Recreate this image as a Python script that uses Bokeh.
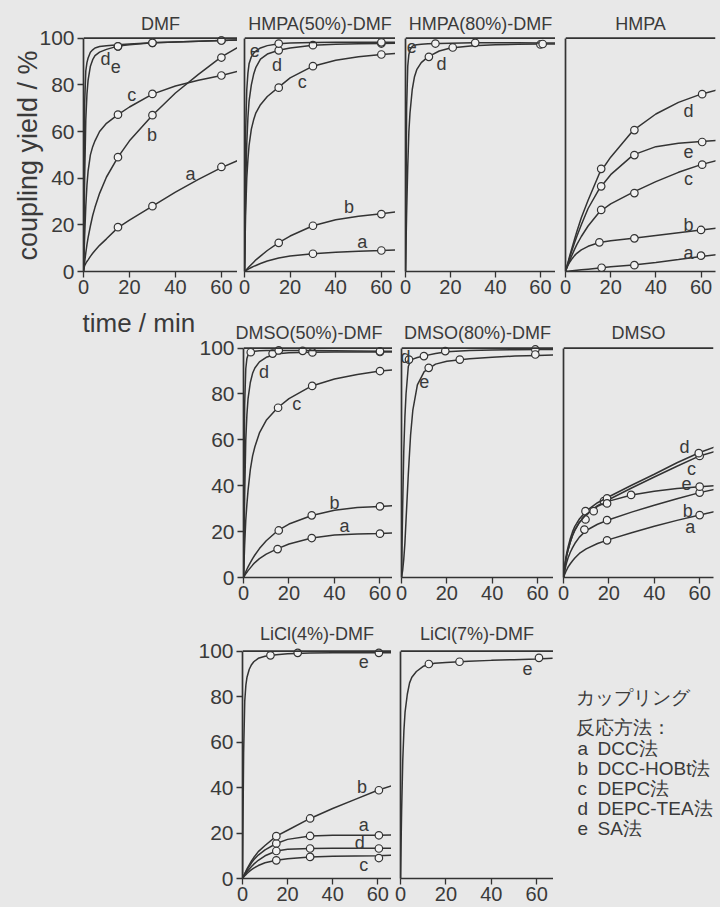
from bokeh.plotting import figure
from bokeh.layouts import column, row
from bokeh.models import Range1d, Span, FixedTicker, Spacer, Title
from bokeh.embed import file_html
from bokeh.resources import INLINE
from bokeh.core.properties import value

# ---------------------------------------------------------------- data
# time grid (min) on which every fitted curve is sampled
CURVE_T = [0, 0.5, 1, 1.5, 2, 3, 4, 5, 7, 10, 15, 20, 30, 40, 50, 60, 67]
X_TICKS = [0, 20, 40, 60]
Y_TICKS = [0, 20, 40, 60, 80, 100]

METHOD_KEYS = ["a", "b", "c", "d", "e"]
METHOD_NAMES = ["DCC法", "DCC-HOBt法", "DEPC法", "DEPC-TEA法", "SA法"]
LEGEND_HEAD = ["カップリング", "反応方法："]

# DMF
DMF_A = [1, 2.5, 3.5, 4.3, 5, 6.5, 7.8, 9, 11.2, 14, 18.8, 22, 28, 34, 39.5, 44.5, 47.5]
DMF_B = [0, 4, 8, 11.5, 14.5, 19.5, 24, 27.5, 33.5, 40.5, 49, 56, 67, 76.5, 84.5, 92, 96]
DMF_C = [0, 15, 28, 37, 43, 50, 53.5, 56, 60, 63.5, 67.2, 70.5, 76, 79.5, 82, 84, 85.8]
DMF_D = [0, 72, 86, 89.5, 91.5, 94, 95, 95.8, 96.4, 96.8, 97.2, 97.5, 98, 98.4, 98.7, 99, 99.2]
DMF_E = [0, 40, 65, 76, 82, 88, 90.8, 92.5, 94, 95.2, 96.6, 97.2, 98, 98.4, 98.7, 99, 99.2]
DMF_PT_T = [15, 30, 60]
DMF_PT_A = [19, 28, 44.8]
DMF_PT_B = [49, 67, 91.7]
DMF_PT_C = [67.2, 76.1, 84]
DMF_PT_DE = [96.5, 98, 99]

# HMPA(50%)-DMF
H50_A = [0, 0.3, 0.6, 0.9, 1.2, 1.7, 2.2, 2.6, 3.4, 4.5, 5.8, 6.6, 7.6, 8.2, 8.7, 9, 9.3]
H50_B = [0, 0.5, 1, 1.5, 2, 3, 4, 5, 6.6, 9, 12.4, 15.2, 19.6, 22.2, 23.7, 24.7, 25.6]
H50_C = [0, 25, 40, 48, 54, 61, 65, 68, 71.5, 75, 79, 83, 88, 90.5, 92, 93, 93.5]
H50_D = [0, 35, 55, 66, 73, 80, 84.5, 87.5, 91, 93.2, 94.8, 95.8, 97, 97.4, 97.6, 97.7, 97.8]
H50_E = [0, 60, 78, 85, 89, 92, 93.5, 94.5, 95.8, 96.8, 97.6, 97.9, 98.1, 98.2, 98.3, 98.3, 98.3]
H50_PT_T = [15, 30, 60]
H50_PT_A_T = [30, 60]
H50_PT_A = [7.6, 9]
H50_PT_B = [12.3, 19.6, 24.6]
H50_PT_C = [78.8, 88, 93]
H50_PT_D = [94.8, 97, 97.7]
H50_PT_E_T = [15, 60]
H50_PT_E = [97.7, 98.2]

# HMPA(80%)-DMF
H80_D = [0, 25, 45, 60, 68, 78, 83.5, 86.5, 89.5, 92, 94.5, 95.8, 96.8, 97.2, 97.4, 97.5, 97.5]
H80_E = [0, 70, 88, 93, 95, 96.5, 97, 97.2, 97.4, 97.6, 97.7, 97.8, 98, 98, 98, 97.9, 97.9]
H80_PT_D_T = [10.4, 21, 60]
H80_PT_D = [92, 96, 97.3]
H80_PT_E_T = [13.3, 31, 61]
H80_PT_E = [97.7, 98, 97.5]

# HMPA
HM_A = [0, 0, 0.1, 0.1, 0.2, 0.3, 0.4, 0.5, 0.7, 1, 1.5, 2, 2.8, 3.9, 5.1, 6.4, 7.2]
HM_B = [0.5, 1.5, 2.5, 3.4, 4.2, 5.6, 6.8, 7.8, 9.3, 10.8, 12.4, 13.2, 14.2, 15.4, 16.6, 17.8, 18.6]
HM_C = [0, 1.3, 2.6, 3.9, 5, 7.3, 9.5, 11.5, 15, 19.5, 25.5, 29, 34, 38.5, 42.5, 45.8, 47.6]
HM_D = [0, 1.8, 3.6, 5.4, 7.2, 10.5, 13.8, 17, 23, 30.5, 42, 49, 60.5, 67.5, 72.5, 76, 77.8]
HM_E = [0, 1.6, 3.2, 4.8, 6.4, 9.4, 12.3, 15, 20, 27, 35.5, 41.5, 50, 53.5, 55, 55.7, 56.2]
HM_PT_T = [15.8, 30.5, 60.5]
HM_PT_A_T = [16, 30.5, 60]
HM_PT_A = [1.6, 2.7, 6.8]
HM_PT_B_T = [15, 30.5, 60]
HM_PT_B = [12.5, 14.2, 17.8]
HM_PT_C = [26.4, 33.6, 45.8]
HM_PT_D = [44, 60.6, 76]
HM_PT_E = [36.5, 49.9, 55.5]

# DMSO(50%)-DMF
D50_A = [0, 0.8, 1.6, 2.3, 3, 4.2, 5.4, 6.5, 8.2, 10.2, 12.6, 14.6, 17.2, 18.5, 19, 19.2, 19.4]
D50_B = [0, 1.3, 2.5, 3.6, 4.6, 6.5, 8.2, 9.8, 12.6, 16, 20.4, 23.3, 27, 29.3, 30.5, 31, 31.3]
D50_C = [0, 14, 25, 32, 38, 47, 53, 57, 63, 68.5, 74, 78, 83.5, 86.5, 88.5, 90, 90.6]
D50_D = [0, 35, 60, 71, 78, 85, 89, 91.3, 94, 96, 97.5, 98, 98.2, 98.3, 98.3, 98.3, 98.3]
D50_E = [0, 75, 91, 95.5, 97, 98, 98.4, 98.6, 98.8, 98.9, 99, 99, 98.9, 98.8, 98.7, 98.6, 98.6]
D50_PT_A_T = [15, 30, 60]
D50_PT_A = [12.4, 17.2, 19.1]
D50_PT_B_T = [15.5, 30, 60]
D50_PT_B = [20.5, 27.1, 31]
D50_PT_C_T = [15.2, 30.2, 60]
D50_PT_C = [74, 83.5, 90]
D50_PT_D_T = [12.8, 30.3, 60]
D50_PT_D = [97.6, 98.1, 98.3]
D50_PT_E_T = [3.2, 15.5, 26, 60]
D50_PT_E = [98.2, 99, 98.8, 98.6]

# DMSO(80%)-DMF
D80_D = [0, 30, 55, 70, 80, 92, 94.5, 95.2, 95.9, 96.6, 97.6, 98.4, 98.9, 99.2, 99.3, 99.4, 99.4]
D80_E = [0, 3, 8, 15, 25, 45, 62, 73, 84, 89.7, 93, 94.3, 95.3, 96, 96.5, 96.8, 97]
D80_PT_D_T = [3.3, 9.9, 19.3, 59]
D80_PT_D = [95, 96.5, 98.7, 99.4]
D80_PT_E_T = [12, 25.7, 59]
D80_PT_E = [91.4, 95, 97.2]

# DMSO
DS_A = [0, 1.3, 2.5, 3.5, 4.5, 6, 7.3, 8.5, 10.5, 12.5, 14.8, 16.5, 19.5, 22.3, 24.9, 27.2, 28.8]
DS_B = [0, 2.5, 5, 6.9, 8.5, 11, 13, 14.8, 17.6, 20.5, 23.2, 25.2, 28.5, 31.5, 34.3, 37, 38.5]
DS_C = [0, 4, 7.5, 10, 12, 15.5, 18.5, 20.8, 24, 27.5, 31.3, 34, 39, 43.8, 48.5, 53, 55]
DS_D = [0, 4.5, 8.5, 11, 13.2, 17, 20, 22.3, 25.5, 29, 32.6, 35.2, 40.2, 45, 50, 54.5, 57]
DS_E = [0, 4, 7.5, 10, 12, 15.5, 18.3, 20.5, 24, 27.5, 31, 33.3, 36, 37.6, 38.8, 39.6, 40]
DS_PT_A_T = [19.2, 60]
DS_PT_A = [16.2, 27.2]
DS_PT_B_T = [9.2, 19.2, 60]
DS_PT_B = [20.9, 25, 37]
DS_PT_C_T = [9.7, 17.8, 60]
DS_PT_C = [25.3, 33.3, 53]
DS_PT_D_T = [9.7, 19.2, 59.6]
DS_PT_D = [28.9, 34.5, 54.2]
DS_PT_E_T = [13.3, 19.2, 29.8, 60]
DS_PT_E = [28.9, 32.3, 36, 39.6]

# LiCl(4%)-DMF
L4_A = [0, 1, 2, 2.9, 3.8, 5.4, 6.9, 8.2, 10.3, 12.6, 15.4, 17.2, 18.7, 19, 19, 19, 19.1]
L4_B = [0, 1.1, 2.2, 3.2, 4.2, 6, 7.7, 9.2, 11.8, 14.5, 18.6, 21.2, 26.4, 30.8, 34.8, 38.8, 41]
L4_C = [0, 0.6, 1.2, 1.7, 2.2, 3.1, 3.9, 4.6, 5.7, 6.9, 8, 8.7, 9.5, 9.8, 9.9, 10, 10.3]
L4_D = [0, 0.8, 1.6, 2.3, 3, 4.2, 5.3, 6.3, 8, 10, 12.1, 12.9, 13.2, 13.3, 13.3, 13.3, 13.3]
L4_E = [0, 55, 78, 85, 88.5, 92, 94, 95.3, 96.8, 97.7, 98.4, 98.8, 99.1, 99.2, 99.3, 99.3, 99.3]
L4_PT_T = [15, 30, 60.5]
L4_PT_A = [15.4, 18.7, 19]
L4_PT_B = [18.6, 26.4, 38.8]
L4_PT_C = [8, 9.5, 9]
L4_PT_D = [12.1, 13.2, 13.2]
L4_PT_E_T = [12.4, 24.5, 60.5]
L4_PT_E = [98.1, 99.2, 99.2]

# LiCl(7%)-DMF
L7_E = [0, 30, 52, 65, 73, 81, 86, 88.5, 91, 93.3, 94.6, 95, 95.5, 95.9, 96.2, 96.5, 96.8]
L7_PT_E_T = [12.5, 26, 61]
L7_PT_E = [94.3, 95.3, 97]

# ---------------------------------------------------------------- panels
PANELS = {
    "DMF": [("a", DMF_A, DMF_PT_T, DMF_PT_A), ("b", DMF_B, DMF_PT_T, DMF_PT_B),
            ("c", DMF_C, DMF_PT_T, DMF_PT_C), ("d", DMF_D, DMF_PT_T, DMF_PT_DE),
            ("e", DMF_E, DMF_PT_T, DMF_PT_DE)],
    "HMPA(50%)-DMF": [("a", H50_A, H50_PT_A_T, H50_PT_A), ("b", H50_B, H50_PT_T, H50_PT_B),
                      ("c", H50_C, H50_PT_T, H50_PT_C), ("d", H50_D, H50_PT_T, H50_PT_D),
                      ("e", H50_E, H50_PT_E_T, H50_PT_E)],
    "HMPA(80%)-DMF": [("d", H80_D, H80_PT_D_T, H80_PT_D), ("e", H80_E, H80_PT_E_T, H80_PT_E)],
    "HMPA": [("a", HM_A, HM_PT_A_T, HM_PT_A), ("b", HM_B, HM_PT_B_T, HM_PT_B),
             ("c", HM_C, HM_PT_T, HM_PT_C), ("d", HM_D, HM_PT_T, HM_PT_D),
             ("e", HM_E, HM_PT_T, HM_PT_E)],
    "DMSO(50%)-DMF": [("a", D50_A, D50_PT_A_T, D50_PT_A), ("b", D50_B, D50_PT_B_T, D50_PT_B),
                      ("c", D50_C, D50_PT_C_T, D50_PT_C), ("d", D50_D, D50_PT_D_T, D50_PT_D),
                      ("e", D50_E, D50_PT_E_T, D50_PT_E)],
    "DMSO(80%)-DMF": [("d", D80_D, D80_PT_D_T, D80_PT_D), ("e", D80_E, D80_PT_E_T, D80_PT_E)],
    "DMSO": [("a", DS_A, DS_PT_A_T, DS_PT_A), ("b", DS_B, DS_PT_B_T, DS_PT_B),
             ("c", DS_C, DS_PT_C_T, DS_PT_C), ("d", DS_D, DS_PT_D_T, DS_PT_D),
             ("e", DS_E, DS_PT_E_T, DS_PT_E)],
    "LiCl(4%)-DMF": [("a", L4_A, L4_PT_T, L4_PT_A), ("b", L4_B, L4_PT_T, L4_PT_B),
                     ("c", L4_C, L4_PT_T, L4_PT_C), ("d", L4_D, L4_PT_T, L4_PT_D),
                     ("e", L4_E, L4_PT_E_T, L4_PT_E)],
    "LiCl(7%)-DMF": [("e", L7_E, L7_PT_E_T, L7_PT_E)],
}

# where each curve's letter sits (time, yield)
LETTER_AT = {
    "DMF": {"a": (46.5, 42), "b": (29.8, 58.4), "c": (21, 75.5), "d": (9.6, 91), "e": (14, 87.7)},
    "HMPA(50%)-DMF": {"a": (51.6, 12.6), "b": (45.8, 27.6), "c": (25.3, 81.2), "d": (14.3, 88.4), "e": (4.5, 94.8)},
    "HMPA(80%)-DMF": {"d": (16, 89), "e": (2.8, 96.5)},
    "HMPA": {"a": (54.5, 7.8), "b": (54.5, 20), "c": (54.5, 39.7), "d": (54.5, 68.8), "e": (54.5, 51.6)},
    "DMSO(50%)-DMF": {"a": (44.4, 22.3), "b": (40, 32.5), "c": (23.4, 75.5), "d": (9, 89.5)},
    "DMSO(80%)-DMF": {"d": (1.8, 95.9), "e": (10, 85.6)},
    "DMSO": {"a": (55.9, 22), "b": (54.8, 29), "c": (56.4, 47.2), "d": (53.3, 57), "e": (54.2, 41)},
    "LiCl(4%)-DMF": {"a": (53.8, 23.5), "b": (53, 40.3), "c": (53.8, 5.9), "d": (52, 15.4), "e": (53.8, 95.3)},
    "LiCl(7%)-DMF": {"e": (56, 92.5)},
}

# ---------------------------------------------------------------- style
BG = "#e8e8e8"
INK = "#333333"
TEXT = "#3a3a3a"
DOT_FILL = "#f1f1f1"
FONT = "Liberation Sans"
FILL_STYLE = {"background-color": BG}


def panel(name, width, height, left, right, top, bottom, x_end, y_labels, title_standoff):
    p = figure(width=width, height=height,
               x_range=Range1d(0, x_end), y_range=Range1d(0, 102),
               output_backend="svg", toolbar_location=None,
               min_border_left=left, min_border_right=right,
               min_border_top=top, min_border_bottom=bottom,
               background_fill_color=BG, border_fill_color=BG,
               outline_line_color=None, title=name, styles=FILL_STYLE)
    p.grid.visible = False
    p.title.align = "center"
    p.title.text_font = FONT
    p.title.text_font_size = "18px"
    p.title.text_font_style = "normal"
    p.title.text_color = TEXT
    p.title.standoff = title_standoff

    xa = p.xaxis[0]
    xa.ticker = FixedTicker(ticks=X_TICKS)
    xa.bounds = (0, x_end)
    xa.major_tick_out = 6
    xa.major_tick_in = 0
    xa.minor_tick_line_color = None
    xa.major_label_standoff = 2
    xa.major_label_text_font = FONT
    xa.major_label_text_font_size = "20px"
    xa.major_label_text_color = TEXT
    xa.axis_line_color = INK
    xa.axis_line_width = 1.7
    xa.major_tick_line_color = INK
    xa.major_tick_line_width = 1.3

    ya = p.yaxis[0]
    ya.bounds = (0, 100)
    ya.axis_line_color = INK
    ya.axis_line_width = 1.7
    ya.minor_tick_line_color = None
    ya.major_tick_in = 0
    if y_labels:
        ya.ticker = FixedTicker(ticks=Y_TICKS)
        ya.major_tick_out = 6
        ya.major_label_standoff = 3
        ya.major_label_text_font = FONT
        ya.major_label_text_font_size = "21px"
        ya.major_label_text_color = TEXT
        ya.major_tick_line_color = INK
        ya.major_tick_line_width = 1.3
    else:
        ya.ticker = FixedTicker(ticks=[])
        ya.major_tick_out = 0
        ya.major_label_standoff = 0
        ya.major_tick_line_color = None

    p.add_layout(Span(location=100, dimension="width", line_color=INK, line_width=1.7))

    for key, curve, pt_t, pt_y in PANELS[name]:
        p.line(CURVE_T, curve, line_color=INK, line_width=1.5)
        p.scatter(pt_t, pt_y, marker="circle", size=7.5, fill_color=DOT_FILL,
                  line_color=INK, line_width=1.2)

    spots = LETTER_AT[name]
    keys = list(spots)
    p.text(x=[spots[k][0] for k in keys], y=[spots[k][1] for k in keys], text=keys,
           text_font=value(FONT), text_font_size="18px", text_color=TEXT,
           text_align="center", text_baseline="middle")
    return p


def blank(width, height, top=0, bottom=0):
    """Axis-less canvas whose data units are pixels measured from its top-left."""
    b = figure(width=width, height=height, x_range=Range1d(0, width),
               y_range=Range1d(height - bottom, top),
               output_backend="svg", toolbar_location=None,
               x_axis_location=None, y_axis_location=None,
               min_border_left=0, min_border_right=0,
               min_border_top=top, min_border_bottom=bottom,
               background_fill_color=BG, border_fill_color=BG, outline_line_color=None,
               styles=FILL_STYLE)
    b.grid.visible = False
    return b


# row heights: 303 + 306 + 298 = 907
R1, R2, R3 = 303, 306, 298

dmf = panel("DMF", 237, R1, 83, 0, 33, 32, 67, True, 0)
# shared y-axis title, started a little above the x axis
dmf.add_layout(Title(text="coupling yield / %", align="left", offset=11, standoff=-12,
                     text_font=FONT, text_font_size="27px", text_font_style="normal",
                     text_color=TEXT), "left")

h50 = panel("HMPA(50%)-DMF", 158, R1, 7, 0, 33, 32, 66.2, False, 0)
h80 = panel("HMPA(80%)-DMF", 160, R1, 10, 0, 33, 32, 66.7, False, 0)
hm = panel("HMPA", 165, R1, 10, 5, 33, 32, 66.4, False, 0)

# x-axis title belonging to the DMF panel, in the free corner under it
TM_W, TM_H = 196, 40
tmin = blank(TM_W, TM_H)
tmin.text(x=[82], y=[19], text=["time / min"], text_font=value(FONT),
          text_font_size="26px", text_color=TEXT, text_align="left",
          text_baseline="alphabetic")
corner = column(tmin, Spacer(width=TM_W, height=R2 - TM_H, styles=FILL_STYLE),
                styles=FILL_STYLE)

d50 = panel("DMSO(50%)-DMF", 196, R2, 45, 0, 40, 32, 65.5, True, 2)
d50.title.align = "left"
d50.title.offset = -8
d80 = panel("DMSO(80%)-DMF", 161, R2, 9, 0, 40, 32, 67, False, 2)
dms = panel("DMSO", 167, R2, 10, 7, 40, 32, 66.1, False, 2)

l4 = panel("LiCl(4%)-DMF", 391, R3, 242, 0, 37, 29, 66.1, True, 5)
l7 = panel("LiCl(7%)-DMF", 162, R3, 9, 0, 37, 29, 67.4, False, 5)

# method key; y values are pixels from the top of the row
leg = blank(167, R3, top=37, bottom=29)
head_y = [88 + 30 * i for i in range(len(LEGEND_HEAD))]
leg.text(x=[22] * len(LEGEND_HEAD), y=head_y, text=LEGEND_HEAD,
         text_font=value(FONT), text_font_size="19px", text_color=TEXT,
         text_align="left", text_baseline="middle")
item_y = [138.5 + 20 * i for i in range(len(METHOD_KEYS))]
leg.text(x=[24] * len(METHOD_KEYS), y=item_y, text=METHOD_KEYS,
         text_font=value(FONT), text_font_size="19px", text_color=TEXT,
         text_align="left", text_baseline="middle")
leg.text(x=[44] * len(METHOD_NAMES), y=item_y, text=METHOD_NAMES,
         text_font=value(FONT), text_font_size="19px", text_color=TEXT,
         text_align="left", text_baseline="middle")

layout = column(row(dmf, h50, h80, hm, styles=FILL_STYLE),
                row(corner, d50, d80, dms, styles=FILL_STYLE),
                row(l4, l7, leg, styles=FILL_STYLE),
                styles=FILL_STYLE)

with open("out.html", "w") as f:
    f.write(file_html(layout, INLINE, "coupling yield"))
